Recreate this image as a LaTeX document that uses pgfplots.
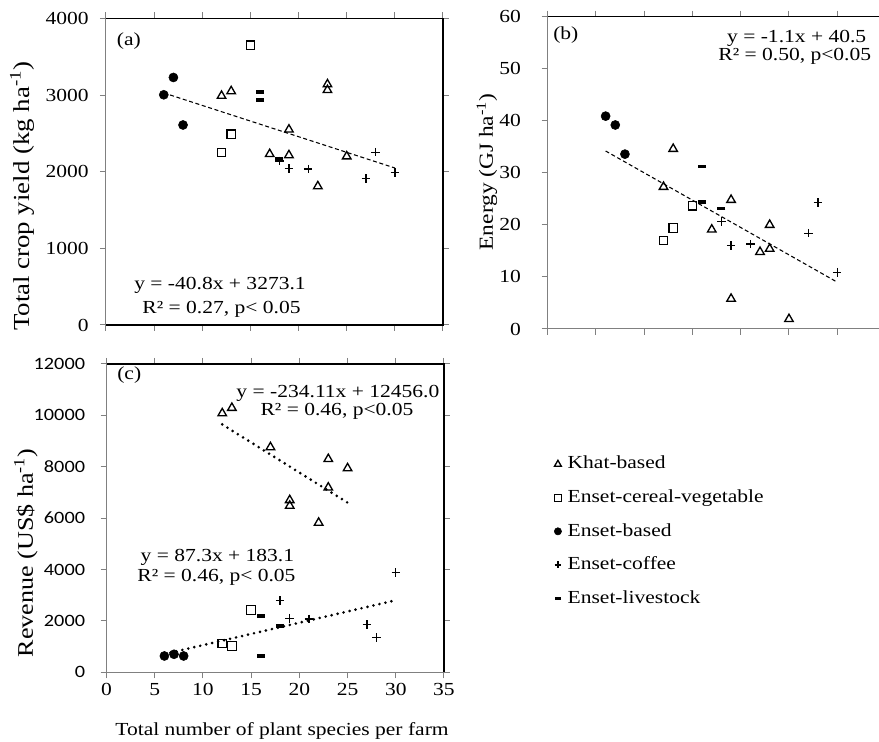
\documentclass[border=0pt]{standalone}
\usepackage{pgfplots}
\pgfplotsset{compat=1.18}
\usepackage{fontspec}
\setmainfont[FakeStretch=1.17]{Liberation Serif}
\newfontfamily\calib[FakeStretch=1.17]{Carlito}
\newcommand\fs{\fontsize{13.8}{16}\selectfont}

\pgfplotsset{
  panel/.style={
    scale only axis, anchor=south west,
    xmin=0, xmax=35, xtick={0,5,...,35},
    tick align=outside, major tick length=4.5pt,
    every tick/.style={draw=gray, line width=0.75pt},
    axis line style={draw=gray, line width=0.75pt},
    tick label style={font=\fs, inner sep=0pt},
    /pgf/number format/assume math mode=true,
    /pgf/number format/1000 sep={},
    scaled y ticks=false,
    clip=false,
    ylabel style={anchor=center},
  },
  khat/.style={only marks, mark=triangle, mark size=3.7pt, mark options={draw=black, line width=1pt, fill=white}},
  ecv/.style={only marks, mark=square, mark size=3.2pt, mark options={draw=black, line width=0.9pt, fill=white}},
  eb/.style={only marks, mark=*, mark size=3.4pt, mark options={draw=black, fill=black}},
  ec/.style={only marks, mark=+, mark size=3.2pt, mark options={draw=black, line width=1pt}},
  el/.style={only marks, mark=-, mark size=3pt, mark options={draw=black, line width=2.4pt}},
  trenddash/.style={black, line width=0.8pt, dash pattern=on 3pt off 2pt},
  trenddot/.style={black, line width=2.2pt, line cap=round, dash pattern=on 0pt off 4.6pt},
}

\begin{document}
\begin{tikzpicture}
\useasboundingbox (0,0) rectangle (659.25pt,556.5pt);

% ---------------- (a)
\begin{axis}[panel, at={(79.5pt,312.75pt)}, width=252.75pt, height=229.9pt,
  ymin=0, ymax=4000, ytick={0,1000,...,4000}, xticklabels={},
  yticklabel style={xshift=-8.25pt},
  ylabel={Total crop yield (kg ha\textsuperscript{-1})},
  ylabel style={font=\fontsize{17.2}{20}\selectfont, at={(axis description cs:-0.249,0.42)}}]
\addplot[trenddash] coordinates {(6,3028.3) (30,2049.1)};
\addplot[khat] coordinates {(12,2990) (13,3050) (19,2550) (17,2230) (19,2215) (23,3140) (23,3065) (25,2200) (22,1810)};
\addplot[ecv] coordinates {(15,3650) (13,2490) (12,2250)};
\addplot[eb] coordinates {(6,3004) (7,3230) (8,2610)};
\addplot[ec] coordinates {(18,2140) (19,2040) (21,2035) (27,1910) (28,2255) (30,1990)};
\addplot[el] coordinates {(16,3040) (16,2935) (18,2170)};
\draw[black, line width=1pt] (rel axis cs:0,1) -- (rel axis cs:1,1) -- (rel axis cs:1,0) -- (rel axis cs:0,0);
\node[font=\fs, anchor=west, inner sep=0pt] at (axis cs:1.1,3700) {(a)};
\node[font=\fs, inner sep=0pt] at (axis cs:11.84,522) {y = -40.8x + 3273.1};
\node[font=\fs, inner sep=0pt] at (axis cs:12.0,209) {R² = 0.27, p< 0.05};
\end{axis}

% ---------------- (b)
\begin{axis}[panel, at={(410.8pt,309.75pt)}, width=253.3pt, height=234.2pt,
  ymin=0, ymax=60, ytick={0,10,...,60}, xticklabels={},
  yticklabel style={xshift=-15.5pt},
  ylabel={Energy (GJ ha\textsuperscript{-1})},
  ylabel style={font=\fontsize{15}{18}\selectfont, at={(axis description cs:-0.18,0.503)}}]
\addplot[trenddash] coordinates {(6,34.2) (30,9.0)};
\addplot[khat] coordinates {(13,34.6) (12,27.3) (17,19.1) (19,24.8) (19,5.8) (22,14.8) (23,15.4) (23,20.0) (25,1.9)};
\addplot[ecv] coordinates {(12,17.0) (13,19.4) (15,23.7)};
\addplot[eb] coordinates {(6,40.9) (7,39.2) (8,33.6)};
\addplot[ec] coordinates {(18,20.7) (19,16.0) (21,16.3) (27,18.4) (28,24.3) (30,10.9)};
\addplot[el] coordinates {(16,31.2) (16,24.4) (18,23.1)};
\draw[black, line width=1pt] (rel axis cs:0,1) -- (rel axis cs:1,1);
\node[font=\fs, anchor=west, inner sep=0pt] at (axis cs:0.55,56.5) {(b)};
\node[font=\fs, inner sep=0pt] at (axis cs:25.8,55.9) {y = -1.1x + 40.5};
\node[font=\fs, inner sep=0pt] at (axis cs:25.6,52.3) {R² = 0.50, p<0.05};
\end{axis}

% ---------------- (c)
\begin{axis}[panel, at={(79.9pt,52.3pt)}, width=253.1pt, height=231.2pt,
  ymin=0, ymax=12000, ytick={0,2000,...,12000},
  yticklabel style={xshift=-11.4pt, font=\calib\fontsize{13}{15}\selectfont},
  xticklabel style={yshift=-3.75pt},
  ylabel={Revenue (US\$ ha\textsuperscript{-1})},
  ylabel style={font=\fontsize{16.7}{20}\selectfont, at={(axis description cs:-0.239,0.387)}},
  xlabel={Total number of plant species per farm},
  xlabel style={font=\fs, at={(axis description cs:0.52,-0.19)}, anchor=center},
  legend style={draw=none, fill=none, at={(axis description cs:1.321,0.708)}, anchor=north west,
    font=\fs, row sep=10.15pt, inner sep=0pt,
    nodes={inner sep=1pt, text height=10pt, text depth=3pt}},
  legend cell align=left,
  legend image code/.code={\path[draw=none,fill=none] (-4pt,-2pt) rectangle (6.3pt,2pt);
    \draw[only marks,#1] plot coordinates {(0pt,0pt)};},
  legend image post style={/tikz/every mark/.append style={scale=0.8}}]
\addplot[trenddot, forget plot] coordinates {(12,9647) (25,6603)};
\addplot[trenddot, forget plot] coordinates {(6,707) (30,2802)};
\addplot[khat] coordinates {(12,10080) (13,10290) (17,8760) (23,8300) (25,7940) (23,7190) (19,6700) (19,6480) (22,5820)};
\addlegendentry{Khat-based}
\addplot[ecv] coordinates {(15,2425) (12,1120) (13,1025)};
\addlegendentry{Enset-cereal-vegetable}
\addplot[eb] coordinates {(6,634) (7,700) (8,634)};
\addlegendentry{Enset-based}
\addplot[ec] coordinates {(18,2787) (19,2102) (21,2075) (27,1868) (28,1362) (30,3890)};
\addlegendentry{Enset-coffee}
\addplot[el] coordinates {(16,2191) (16,634) (18,1802)};
\addlegendentry{Enset-livestock}
\draw[black, line width=1pt] (rel axis cs:0,1) -- (rel axis cs:1,1) -- (rel axis cs:1,0);
\node[font=\fs, anchor=west, inner sep=0pt] at (axis cs:1.09,11580) {(c)};
\node[font=\fs, inner sep=0pt] at (axis cs:24.0,10870) {y = -234.11x + 12456.0};
\node[font=\fs, inner sep=0pt] at (axis cs:23.9,10170) {R² = 0.46, p<0.05};
\node[font=\fs, inner sep=0pt] at (axis cs:11.5,4480) {y = 87.3x + 183.1};
\node[font=\fs, inner sep=0pt] at (axis cs:11.4,3700) {R² = 0.46, p< 0.05};
\end{axis}
\end{tikzpicture}
\end{document}
